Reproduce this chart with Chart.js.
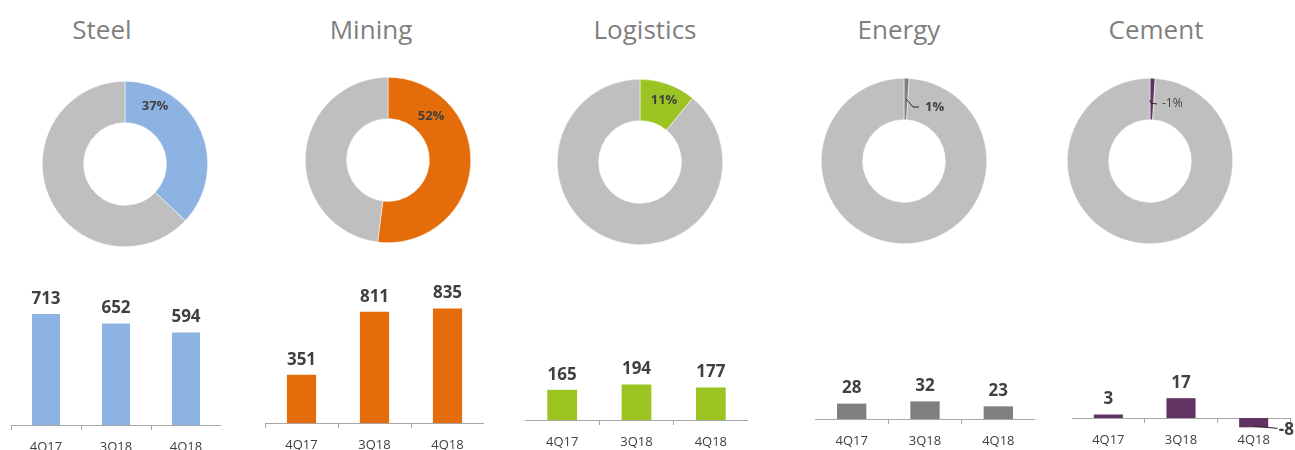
<!DOCTYPE html>
<html>
<head>
<meta charset="utf-8">
<script src="https://cdn.jsdelivr.net/npm/chart.js@4.4.1/dist/chart.umd.min.js"></script>
<style>
    body { margin: 0; width: 1295px; height: 450px; overflow: hidden; background: #fff; position: relative; font-family: 'Open Sans', sans-serif; }
    .title { position: absolute; top: 14px; width: 200px; margin-left: -100px; text-align: center; font-size: 26px; line-height: 30px; color: #7f7f7f; }
    canvas { position: absolute; }
</style>
</head>
<body>
<script>
// data
const segments = ['Steel', 'Mining', 'Logistics', 'Energy', 'Cement'];
const quarters = ['4Q17', '3Q18', '4Q18'];
const shareOfTotal = [37, 52, 11, 1, -1];   // % shown in the doughnuts
const steelValues = [713, 652, 594];
const miningValues = [351, 811, 835];
const logisticsValues = [165, 194, 177];
const energyValues = [28, 32, 23];
const cementValues = [3, 17, -8];
const segmentValues = [steelValues, miningValues, logisticsValues, energyValues, cementValues];

const segmentColors = ['#8db3e2', '#e46c0a', '#9bc423', '#808080', '#613362'];
const restColor = '#bfbfbf';
const textDark = '#404040';

// placement of each column (positions only)
const layout = [
    { title: 102,  cx: 125,  cy: 164, lab: { dx: 30, dy: -58, bold: true },  axis: [11, 221, 425],  yMax: 1124 },
    { title: 371,  cx: 388,  cy: 160, lab: { dx: 43, dy: -44, bold: true },  axis: [265, 484, 423], yMax: 1261 },
    { title: 645,  cx: 640,  cy: 162, lab: { dx: 24, dy: -62, bold: true },  axis: [525, 748, 420], yMax: 929 },
    { title: 899,  cx: 904,  cy: 161, lab: { dx: 21, dy: -54, bold: true, align: 'left', leader: [[2, -62], [9, -54], [15, -54]] }, axis: [815, 1035, 419], yMax: 307 },
    { title: 1156, cx: 1150, cy: 161, lab: { dx: 12, dy: -57, bold: false, align: 'left', leader: [[0, -61], [1, -58], [7, -57]] }, axis: [1072, 1290, 418], yMax: 144 }
];

const donutLabel = {
    id: 'donutLabel',
    afterDraw(chart) {
        const o = chart.options.plugins.donutLabel;
        const ctx = chart.ctx;
        const arc = chart.getDatasetMeta(0).data[0];
        const cx = arc.x, cy = arc.y;
        ctx.save();
        if (o.leader) {
            ctx.strokeStyle = '#262626';
            ctx.lineWidth = 1;
            ctx.beginPath();
            o.leader.forEach((p, i) => i ? ctx.lineTo(cx + p[0], cy + p[1]) : ctx.moveTo(cx + p[0], cy + p[1]));
            ctx.stroke();
        }
        ctx.fillStyle = textDark;
        ctx.font = (o.bold ? 'bold 13px' : '12px') + ' "Open Sans"';
        ctx.textAlign = o.align || 'center';
        ctx.textBaseline = 'middle';
        ctx.fillText(o.text, cx + o.dx, cy + o.dy);
        ctx.restore();
    }
};

const barLabels = {
    id: 'barLabels',
    afterDatasetsDraw(chart) {
        const ctx = chart.ctx;
        const ds = chart.data.datasets[0];
        ctx.save();
        ctx.fillStyle = textDark;
        ctx.font = 'bold 17px "Open Sans"';
        chart.getDatasetMeta(0).data.forEach((bar, i) => {
            const v = ds.data[i];
            if (v >= 0) {
                ctx.textAlign = 'center';
                ctx.textBaseline = 'middle';
                ctx.fillText(v, bar.x, bar.y - 15);
            } else {
                ctx.strokeStyle = '#262626';
                ctx.lineWidth = 1;
                ctx.beginPath();
                ctx.moveTo(bar.x, bar.y - 1);
                ctx.lineTo(bar.x + 24, bar.y + 1);
                ctx.stroke();
                ctx.textAlign = 'left';
                ctx.textBaseline = 'middle';
                ctx.fillText(v, bar.x + 25, bar.y + 3);
            }
        });
        ctx.restore();
    }
};

function addCanvas(left, top, w, h) {
    const c = document.createElement('canvas');
    c.width = w; c.height = h;
    c.style.left = left + 'px';
    c.style.top = top + 'px';
    c.style.width = w + 'px';
    c.style.height = h + 'px';
    document.body.appendChild(c);
    return c;
}

segments.forEach((name, i) => {
    const L = layout[i];

    const t = document.createElement('div');
    t.className = 'title';
    t.style.left = L.title + 'px';
    t.textContent = name;
    document.body.appendChild(t);

    // doughnut
    const share = shareOfTotal[i];
    const dc = addCanvas(L.cx - 100, L.cy - 100, 200, 200);
    new Chart(dc, {
        type: 'doughnut',
        data: {
            labels: [name, 'Other'],
            datasets: [{
                data: [share, 100 - Math.abs(share)],
                backgroundColor: [segmentColors[i], restColor],
                borderColor: '#ffffff',
                borderWidth: 0.5
            }]
        },
        options: {
            responsive: false,
            animation: false,
            events: [],
            cutout: '50%',
            layout: { padding: 17 },
            plugins: {
                legend: { display: false },
                tooltip: { enabled: false },
                donutLabel: Object.assign({ text: share + '%' }, L.lab)
            }
        },
        plugins: [donutLabel]
    });

    // bars
    const [ax0, ax1, ay] = L.axis;
    const top = 250;
    const rightPad = i === 4 ? 1295 - ax1 : 0;
    const bc = addCanvas(ax0, top, ax1 - ax0 + rightPad, ay - top + 40);
    new Chart(bc, {
        type: 'bar',
        data: {
            labels: quarters,
            datasets: [{
                data: segmentValues[i],
                backgroundColor: segmentColors[i],
                barPercentage: 0.4,
                categoryPercentage: 1,
                clip: false
            }]
        },
        options: {
            responsive: false,
            animation: false,
            events: [],
            layout: { padding: { left: 0, right: rightPad, top: 0, bottom: 0 } },
            plugins: { legend: { display: false }, tooltip: { enabled: false } },
            scales: {
                x: {
                    grid: { offset: true, drawOnChartArea: false, drawTicks: true, tickLength: 5, color: '#a6a6a6' },
                    border: { color: '#a6a6a6' },
                    ticks: { color: textDark, font: { family: 'Open Sans', size: 13 }, padding: 9 },
                    afterFit: s => { s.height = 40; }
                },
                y: { display: false, min: 0, max: L.yMax }
            }
        },
        plugins: [barLabels]
    });
});
</script>
</body>
</html>
